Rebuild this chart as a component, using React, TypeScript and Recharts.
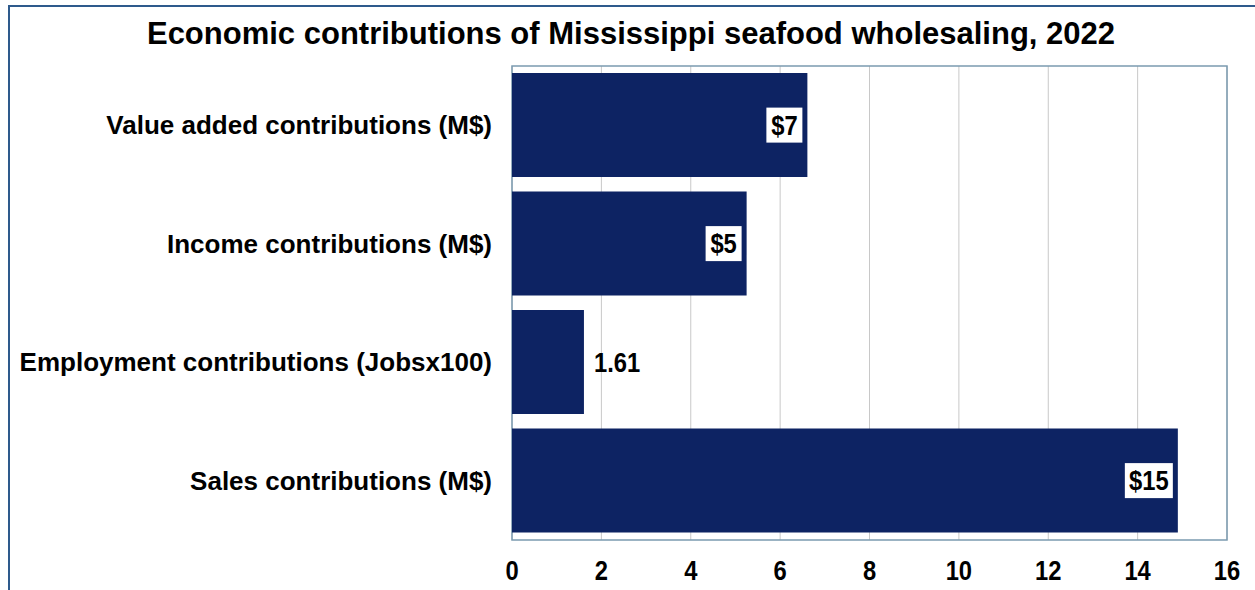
import React from 'react';
import {
  BarChart,
  Bar,
  XAxis,
  YAxis,
  CartesianGrid,
  LabelList,
  ReferenceArea,
} from 'recharts';

const categories = [
  'Value added contributions (M$)',
  'Income contributions (M$)',
  'Employment contributions (Jobsx100)',
  'Sales contributions (M$)',
];
const values = [6.61, 5.25, 1.61, 14.9];
const valueLabels = ['$7', '$5', '1.61', '$15'];
const xTicks = [0, 2, 4, 6, 8, 10, 12, 14, 16];

const data = categories.map((name, i) => ({ name, value: values[i], label: valueLabels[i] }));

const BAR_COLOR = '#0d2363';
const SANS = '"Liberation Sans", Arial, sans-serif';

// narrow-looking bold digits, like the original's condensed font
const NarrowText = ({ x, y, anchor, children }: any) => (
  <text
    x={0}
    y={0}
    dy="0.35em"
    textAnchor={anchor}
    transform={`translate(${x},${y}) scale(0.88,1)`}
    fontFamily={SANS}
    fontWeight="bold"
    fontSize={27}
    fill="#000"
  >
    {children}
  </text>
);

const CategoryTick = (props: any) => {
  const { x, y, payload } = props;
  return (
    <text x={x - 12} y={y} dy="0.35em" textAnchor="end" fontFamily={SANS} fontWeight="bold" fontSize={26} fill="#000">
      {payload.value}
    </text>
  );
};

const ValueTick = (props: any) => {
  const { x, y, payload } = props;
  return <NarrowText x={x} y={y + 23} anchor="middle">{payload.value}</NarrowText>;
};

const BarLabel = (props: any) => {
  const { x, y, width, height, index } = props;
  const text = valueLabels[index];
  const end = x + width;
  const cy = y + height / 2;
  if (!text.startsWith('$')) {
    return <NarrowText x={end + 10} y={cy} anchor="start">{text}</NarrowText>;
  }
  const boxW = text.length * 12 + 12;
  const boxH = 35;
  const bx = end - 5 - boxW;
  return (
    <g>
      <rect x={bx} y={cy - boxH / 2} width={boxW} height={boxH} fill="#fff" />
      <NarrowText x={bx + boxW / 2} y={cy} anchor="middle">{text}</NarrowText>
    </g>
  );
};

export default function App() {
  return (
    <div style={{ position: 'absolute', left: 0, top: 0, width: 1255, height: 590, background: '#fff', overflow: 'hidden' }}>
      <div
        style={{
          position: 'absolute',
          left: 8,
          top: 5,
          width: 1260,
          height: 600,
          borderLeft: '2px solid #2e5a8c',
          borderTop: '2px solid #2e5a8c',
        }}
      />
      <div
        style={{
          position: 'absolute',
          left: 0,
          top: 16,
          width: 1262,
          textAlign: 'center',
          fontFamily: SANS,
          fontWeight: 'bold',
          fontSize: 31,
          color: '#000',
        }}
      >
        Economic contributions of Mississippi seafood wholesaling, 2022
      </div>
      <div style={{ position: 'absolute', left: 0, top: 0 }}>
        <BarChart
          width={1255}
          height={590}
          data={data}
          layout="vertical"
          margin={{ top: 66, right: 28, bottom: 10, left: 0 }}
          barCategoryGap="6%"
        >
          <CartesianGrid horizontal={false} vertical stroke="#c8c8c8" verticalValues={xTicks} />
          <XAxis
            type="number"
            domain={[0, 16]}
            ticks={xTicks}
            height={40}
            axisLine={false}
            tickLine={false}
            tick={<ValueTick />}
            interval={0}
          />
          <YAxis
            type="category"
            dataKey="name"
            width={512}
            axisLine={false}
            tickLine={false}
            tick={<CategoryTick />}
            interval={0}
          />
          <ReferenceArea x1={0} x2={16} fill="none" stroke="#7b9bb0" strokeWidth={1.5} ifOverflow="extendDomain" />
          <Bar dataKey="value" fill={BAR_COLOR} isAnimationActive={false}>
            <LabelList dataKey="label" content={<BarLabel />} />
          </Bar>
        </BarChart>
      </div>
    </div>
  );
}
